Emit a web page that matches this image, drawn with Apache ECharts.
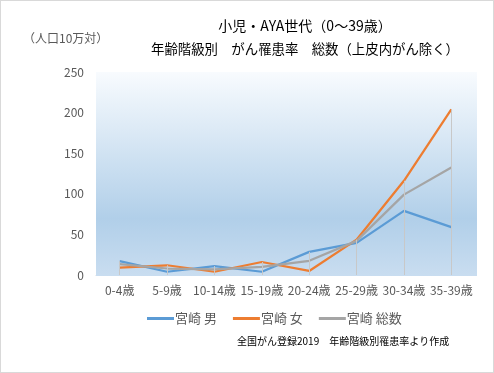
<!DOCTYPE html>
<html>
<head>
<meta charset="utf-8">
<script src="https://cdn.jsdelivr.net/npm/echarts@6/dist/echarts.min.js"></script>
<style>
html,body{margin:0;padding:0;background:#fff;}
#c{width:494px;height:373px;box-sizing:border-box;border:1px solid #d9d9d9;}
</style>
</head>
<body>
<div id="c"></div>
<script>
const categories = ['0-4歳','5-9歳','10-14歳','15-19歳','20-24歳','25-29歳','30-34歳','35-39歳'];
const male   = [17, 4, 11, 4, 28.5, 39.5, 79, 59];
const female = [9, 12, 4, 16, 5, 43.5, 116, 204];
const total  = [13.5, 8, 7, 10, 17.5, 42, 99, 132.5];
const seriesNames = ['宮崎 男','宮崎 女','宮崎 総数'];
const yTicks = [0, 50, 100, 150, 200, 250];

const FONT = '"Noto Sans CJK JP","Noto Sans",sans-serif';
const chart = echarts.init(document.getElementById('c'), null, {renderer:'canvas'});
const dropData = categories.map((c,i)=>[
  {coord:[i,0]},
  {coord:[i,Math.max(male[i],female[i],total[i])]}
]);
const option = {
  animation:false,
  textStyle:{fontFamily:FONT},
  title:{
    text:'{a|小児・AYA世代（0～39歳）}\n{b|年齢階級別　がん罹患率　総数（上皮内がん除く）}',
    left:299, top:8, textAlign:'center',
    textStyle:{fontFamily:FONT,fontWeight:'normal',color:'#000',
      rich:{a:{fontFamily:FONT,fontSize:14,lineHeight:23,color:'#000'},b:{fontFamily:FONT,fontSize:13.4,lineHeight:23,color:'#000'}}}
  },
  graphic:[
    {type:'text',left:22,top:31,style:{text:'（人口10万対）',font:'12px '+FONT,fill:'#595959'}},
    {type:'text',left:236,top:335,style:{text:'全国がん登録2019　年齢階級別罹患率より作成',font:'10px '+FONT,fill:'#000'}}
  ],
  grid:{left:95,right:18,top:71,bottom:97},
  legend:{
    data:seriesNames, left:141, top:306, icon:'rect', itemWidth:27, itemHeight:3, itemGap:16,
    textStyle:{fontFamily:FONT,fontSize:13,color:'#595959',padding:[0,0,0,-4]}
  },
  xAxis:{
    type:'category', data:categories, boundaryGap:true,
    axisLine:{lineStyle:{color:'#d9d9d9'}}, axisTick:{show:false},
    axisLabel:{fontFamily:FONT,fontSize:12,color:'#595959',margin:9,interval:0}
  },
  yAxis:{
    type:'value', min:yTicks[0], max:yTicks[yTicks.length-1], interval:50,
    axisLine:{show:false}, axisTick:{show:false}, splitLine:{show:false},
    axisLabel:{fontFamily:FONT,fontSize:12,color:'#595959',margin:12}
  },
  series:[
    {type:'line',name:'_bg',data:[],silent:true,z:1,
     markArea:{silent:true,itemStyle:{color:{type:'linear',x:0,y:0,x2:0,y2:1,colorStops:[
       {offset:0,color:'#f8fbfe'},{offset:0.72,color:'#b1cfe9'},{offset:1,color:'#c9ddf0'}]}},
       data:[[{x:95,y:71},{x:476,y:275}]]},
     markLine:{silent:true,symbol:'none',label:{show:false},lineStyle:{color:'#c8c8c8',width:1,type:'solid'},data:dropData}
    },
    {type:'line',name:seriesNames[0],data:male,symbol:'none',lineStyle:{width:2.25,color:'#5b9bd5'},itemStyle:{color:'#5b9bd5'},z:3},
    {type:'line',name:seriesNames[1],data:female,symbol:'none',lineStyle:{width:2.25,color:'#ed7d31'},itemStyle:{color:'#ed7d31'},z:3},
    {type:'line',name:seriesNames[2],data:total,symbol:'none',lineStyle:{width:2.25,color:'#a5a5a5'},itemStyle:{color:'#a5a5a5'},z:3}
  ]
};
chart.setOption(option);
</script>
</body>
</html>
